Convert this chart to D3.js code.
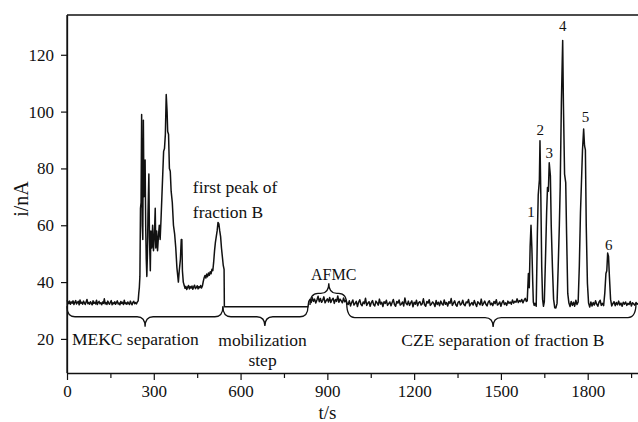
<!DOCTYPE html>
<html>
<head>
<meta charset="utf-8">
<script src="https://cdn.jsdelivr.net/npm/d3@7"></script>
<style>
  html, body { margin: 0; padding: 0; background: #fff; }
  svg { display: block; }
  svg text { font-family: "Liberation Serif", Tinos, "Times New Roman", "DejaVu Serif", serif !important; fill: #111; }
</style>
</head>
<body>
<svg id="chart" width="638" height="422"></svg>
<script>
// ---------------- DATA ----------------
// axis ticks
const xTicksMajor = [0, 300, 600, 900, 1200, 1500, 1800];
const xTicksMinor = [150, 450, 750, 1050, 1350, 1650, 1950];
const yTicks = [20, 40, 60, 80, 100, 120];

// MEKC baseline, sampled every 3 s from t = 0 s (i / nA)
const mekcBaseStart = 0, mekcBaseStep = 3;
const mekcBaseline = [
  33.6, 33.1, 32.4, 33.3, 32.2, 33.0, 32.6, 33.4, 32.1, 32.9, 33.5, 32.3, 32.8, 33.2, 32.0, 33.7, 32.5, 32.9, 32.2, 33.3,
  32.7, 32.1, 33.0, 33.9, 32.4, 32.8, 32.2, 33.1, 32.6, 32.0, 33.4, 32.5, 32.9, 32.3, 33.6, 32.1, 32.8, 33.2, 32.4, 32.7,
  32.0, 33.0, 32.5, 34.1, 32.3, 32.8, 32.1, 33.3, 32.6, 32.2, 32.9, 33.5, 32.0, 32.7, 32.4, 33.1, 32.2, 32.8, 33.4, 32.3,
  32.6, 32.0, 33.2, 32.5, 32.9, 32.1, 33.6, 32.4, 32.7, 32.2, 33.0, 32.5, 32.1, 33.3, 32.6, 32.0, 32.9, 33.2, 32.4, 32.8,
  32.3, 33.0
];

// MEKC peak cluster [t (s), i (nA)]
const mekcPeaks = [
  [246, 33.4], [248, 36], [250, 38], [252, 42], [254, 66], [256, 68], [258, 99], [260, 60], [262, 55],
  [264, 97], [266, 70], [268, 82], [270, 83], [272, 60], [274, 48], [276, 42], [278, 50], [280, 64],
  [283, 78], [285, 56], [288, 44], [290, 58], [293, 52], [296, 60], [299, 51], [302, 56], [305, 66],
  [307, 52], [310, 58], [313, 51], [316, 56], [319, 60], [322, 55], [325, 62], [328, 70], [331, 78],
  [334, 86], [337, 87], [340, 92], [343, 106], [346, 100], [348, 93], [351, 92], [354, 80], [357, 79],
  [360, 72], [364, 68], [368, 60], [372, 57], [376, 52], [380, 45], [383, 42], [385, 40], [388, 44],
  [392, 48], [395, 55], [397, 55], [399, 44], [402, 40]
];

// plateau after MEKC peaks, sampled every 3 s from t = 405 s
const plateauStart = 405, plateauStep = 3;
const mekcPlateau = [
  38.9, 37.8, 38.5, 37.4, 38.2, 38.8, 37.6, 38.4, 37.9, 38.6, 37.5, 38.3, 38.9, 37.7, 38.1, 38.7,
  37.6, 38.4, 38.0, 38.8, 37.9, 38.6
];

// first peak of fraction B, then the mobilization step [t, i]
const fractionBPeak = [
  [471, 40.2], [474, 41.5], [477, 42.3], [480, 41.4], [483, 42.8], [486, 41.9], [489, 43.2], [492, 42.4],
  [495, 43.6], [498, 42.9], [501, 44.5], [504, 44.0], [507, 47], [510, 51], [513, 54], [516, 56],
  [519, 58], [522, 61], [525, 60.5], [528, 58], [531, 56], [534, 52], [537, 49], [540, 46], [543, 44.5],
  [544, 31.3]
];
const mobilizationStep = [[833, 31.3], [836, 33.2]];

// AFMC trace, every 4 s from t = 840 s
const afmcStart = 840, afmcStep = 4;
const afmcTrace = [
  33.9, 32.8, 34.5, 33.2, 34.0, 32.6, 33.7, 35.0, 33.1, 34.2, 32.9, 33.6, 34.8, 32.7, 33.5, 34.1, 33.0, 34.6, 32.8, 33.8,
  34.3, 32.5, 33.9, 33.2, 35.1, 32.9, 34.0, 33.4, 32.7, 34.4, 33.1, 33.6, 32.6
];

// CZE baseline, every 4 s from t = 972 s
const czeBaseStart = 972, czeBaseStep = 4;
const czeBaseline = [
  32.1, 33.4, 31.6, 32.8, 33.7, 31.9, 32.5, 33.2, 31.4, 32.9, 33.8, 32.2, 31.7, 33.0, 32.4, 34.3, 31.8, 32.6, 33.1, 31.5,
  32.8, 33.5, 32.0, 31.6, 33.3, 32.7, 31.9, 34.0, 32.3, 32.9, 31.4, 33.1, 32.5, 33.6, 31.8, 32.4, 33.0, 31.7, 32.8, 33.9,
  32.1, 31.5, 33.2, 32.6, 33.7, 31.9, 32.3, 33.0, 31.6, 34.4, 32.5, 32.0, 33.3, 31.8, 32.7, 33.4, 31.3, 32.9, 32.2, 33.6,
  31.7, 32.8, 33.1, 31.9, 32.4, 34.1, 32.0, 31.5, 33.2, 32.6, 33.8, 31.8, 32.3, 33.0, 32.5, 31.4, 33.5, 32.1, 32.9, 31.7,
  33.3, 32.4, 31.9, 33.7, 32.2, 32.8, 31.6, 33.1, 32.5, 34.2, 31.8, 32.6, 33.4, 32.0, 31.5, 32.9, 33.2, 31.9, 32.4, 33.6,
  32.1, 31.7, 33.0, 32.7, 33.9, 31.6, 32.3, 32.8, 31.9, 33.5, 32.4, 31.4, 33.1, 32.6, 32.0, 34.0, 31.8, 32.5, 33.3, 32.2,
  31.6, 32.9, 33.4, 32.0, 32.6, 31.7, 33.2, 32.4, 33.8, 31.9, 32.3, 33.0, 31.5, 32.8, 33.5, 32.1, 32.7, 31.8, 33.3, 32.5,
  33.0, 32.2, 33.7, 32.6, 33.2, 32.9, 34.1, 32.8, 33.5, 33.1, 33.9, 32.7, 33.6, 34.3, 33.2
];

// CZE peaks 1-6 of fraction B [t, i]
const czePeaks = [
  [1591, 33.4], [1595, 43], [1598, 38], [1601, 52.5], [1604, 60], [1607, 52], [1610, 40], [1612, 33],
  [1615, 31.8], [1618, 32.5], [1622, 31.5], [1626, 57], [1629, 70.7], [1633, 76], [1635, 89.7], [1638, 70],
  [1641, 45.5], [1644, 34], [1647, 31.5], [1650, 33], [1654, 48], [1658, 64.5], [1661, 73.3], [1664, 72],
  [1667, 82], [1671, 77.4], [1674, 59.6], [1678, 45.5], [1682, 34], [1686, 31], [1690, 30.9], [1694, 32.5],
  [1698, 45.5], [1702, 60], [1705, 73.8], [1709, 103], [1712, 118], [1713.5, 125], [1716, 103], [1720, 78],
  [1724, 75], [1727, 57], [1731, 36], [1735, 32.6], [1739, 31.4], [1743, 33.2], [1747, 31.8], [1751, 32.9],
  [1755, 31.5], [1759, 33.6], [1763, 32.1], [1767, 33], [1771, 45.5], [1775, 64.5], [1778, 73.8], [1782, 86.5],
  [1786, 93.9], [1789, 88], [1792, 86.5], [1795, 59.6], [1799, 39.6], [1803, 32.6], [1807, 31.2], [1811, 33.0],
  [1815, 31.6], [1819, 32.8], [1823, 31.9], [1827, 33.4], [1831, 32.2], [1835, 31.5], [1839, 32.9], [1843, 33.6],
  [1847, 31.8], [1851, 32.5], [1855, 31.7], [1859, 36], [1863, 43], [1866, 44], [1869, 50.2], [1872, 49],
  [1875, 42], [1879, 34], [1883, 31.6]
];

// tail baseline, every 4 s from t = 1887 s
const tailStart = 1887, tailStep = 4;
const tailBaseline = [
  32.4, 33.1, 31.7, 32.8, 32.0, 33.3, 31.9, 32.6, 31.5, 32.9, 32.2, 33.0, 31.8, 32.5, 32.1, 33.2,
  31.6, 32.7, 32.3, 31.9, 32.8, 32.2, 32.5
];

// peak labels [label, t, i of label baseline]
const peakLabels = [["1", 1604, 63.0], ["2", 1636, 91.7], ["3", 1667, 83.6], ["4", 1714, 128.2], ["5", 1792, 96.5], ["6", 1873, 51.3]];

// braces [tStart, tEnd, tTip, iEnd, iMid, iTip]
const braces = [
  [0, 539, 270, 31.5, 27.8, 24.3],
  [539, 833, 684, 31.4, 27.8, 24.5],
  [967, 1967, 1473, 32.6, 27.5, 24.2],
  [840, 967, 905, 31.9, 36.0, 39.6]
];

// annotation texts [text, t, i (baseline), anchor]
const notes = [
  ["first peak of", 435, 71.3, "start"],
  ["fraction B", 435, 62.4, "start"],
  ["AFMC", 922, 40.7, "middle"],
  ["MEKC separation", 17, 17.8, "start"],
  ["mobilization", 676, 17.6, "middle"],
  ["step", 676, 10.4, "middle"],
  ["CZE separation of fraction B", 1507, 17.5, "middle"]
];

// ---------------- BUILD SERIES ----------------
const series = [];
mekcBaseline.forEach((v, i) => series.push([mekcBaseStart + i * mekcBaseStep, v]));
mekcPeaks.forEach(p => series.push(p));
mekcPlateau.forEach((v, i) => series.push([plateauStart + i * plateauStep, v]));
fractionBPeak.forEach(p => series.push(p));
mobilizationStep.forEach(p => series.push(p));
afmcTrace.forEach((v, i) => series.push([afmcStart + i * afmcStep, v]));
czeBaseline.forEach((v, i) => series.push([czeBaseStart + i * czeBaseStep, v]));
czePeaks.forEach(p => series.push(p));
tailBaseline.forEach((v, i) => series.push([tailStart + i * tailStep, v]));

// ---------------- DRAW ----------------
const svg = d3.select("#chart");
const mLeft = 67, mTop = 15, mBottom = 373;
const x = d3.scaleLinear().domain([0, 2000]).range([mLeft, mLeft + 2000 * 0.28928]);
const y = d3.scaleLinear().domain([8, 134]).range([mBottom, mTop]);

const font = 'Liberation Serif, Tinos, Times New Roman, DejaVu Serif, serif';

// frame (top line)
svg.append("line")
  .attr("x1", mLeft).attr("x2", x(2000)).attr("y1", mTop).attr("y2", mTop)
  .attr("stroke", "#111").attr("stroke-width", 1.3);

// x axis
svg.append("g").attr("transform", `translate(0,${mBottom})`)
  .call(d3.axisBottom(x).tickValues(xTicksMajor).tickSize(7).tickPadding(5).tickSizeOuter(0).tickFormat(d3.format("d")));
svg.append("g").attr("transform", `translate(0,${mBottom})`)
  .call(d3.axisBottom(x).tickValues(xTicksMinor).tickSize(5).tickFormat("").tickSizeOuter(0))
  .select(".domain").remove();

// y axis
svg.append("g").attr("transform", `translate(${mLeft},0)`)
  .call(d3.axisLeft(y).tickValues(yTicks).tickSize(6).tickPadding(7).tickSizeOuter(0));
svg.append("line").attr("x1", mLeft).attr("x2", mLeft).attr("y1", mTop).attr("y2", mBottom)
  .attr("stroke", "#111").attr("stroke-width", 1.3);

svg.selectAll("g").attr("font-family", font);
svg.selectAll(".domain").attr("stroke", "#111").attr("stroke-width", 1.3);
svg.selectAll(".tick line").attr("stroke", "#111").attr("stroke-width", 1.2);
svg.selectAll(".tick text").attr("font-family", font).attr("font-size", 17).attr("fill", "#111");

// axis titles
svg.append("text").attr("x", 28).attr("y", 199)
  .attr("transform", "rotate(-90,28,199)")
  .attr("font-family", font)
  .attr("text-anchor", "middle").attr("font-size", 20).text("i/nA");
svg.append("text").attr("x", x(900)).attr("y", 419)
  .attr("font-family", font)
  .attr("text-anchor", "middle").attr("font-size", 19).text("t/s");

// trace
const line = d3.line().x(d => x(d[0])).y(d => y(d[1]));
svg.append("path").datum(series)
  .attr("d", line)
  .attr("fill", "none").attr("stroke", "#111").attr("stroke-width", 1.5)
  .attr("stroke-linejoin", "round");

// braces
function bracePath(b) {
  const [t0, t1, tm, vEnd, vMid, vTip] = b;
  const x0 = x(t0), x1 = x(t1), xm = x(tm);
  const yE = y(vEnd), yM = y(vMid), yT = y(vTip);
  const r = 8;
  return `M${x0},${yE} Q${x0},${yM} ${x0 + r},${yM} L${xm - r},${yM} Q${xm},${yM} ${xm},${yT} ` +
         `Q${xm},${yM} ${xm + r},${yM} L${x1 - r},${yM} Q${x1},${yM} ${x1},${yE}`;
}
svg.selectAll("path.brace").data(braces).enter().append("path")
  .attr("class", "brace")
  .attr("d", bracePath)
  .attr("fill", "none").attr("stroke", "#111").attr("stroke-width", 1.3);

// annotation texts
svg.selectAll("text.note").data(notes).enter().append("text")
  .attr("class", "note")
  .attr("font-family", font)
  .attr("x", d => x(d[1])).attr("y", d => y(d[2]))
  .attr("text-anchor", d => d[3])
  .attr("font-size", d => d[0] === "AFMC" ? 16 : 17.5)
  .text(d => d[0]);

// peak numbers
svg.selectAll("text.peak").data(peakLabels).enter().append("text")
  .attr("class", "peak")
  .attr("font-family", font)
  .attr("x", d => x(d[1])).attr("y", d => y(d[2]))
  .attr("text-anchor", "middle").attr("font-size", 15)
  .text(d => d[0]);
</script>
</body>
</html>
